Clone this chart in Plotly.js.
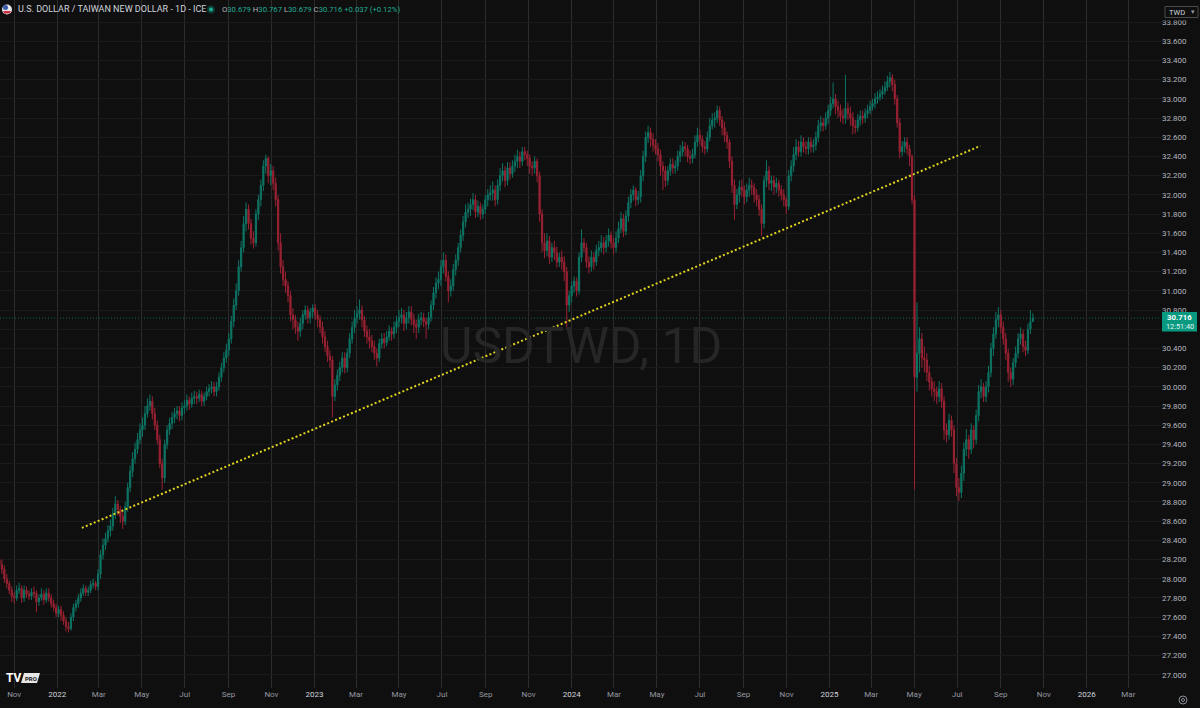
<!DOCTYPE html>
<html><head><meta charset="utf-8">
<script src="https://cdn.plot.ly/plotly-3.0.1.min.js"></script>
<style>html,body{margin:0;padding:0;background:#0f0f0f;overflow:hidden}#chart{width:1200px;height:708px}</style>
</head><body><div id="chart"></div>
<script>
// ---- data ----
const barStart = '2021-10-11';
const barStepDays = 3.5;
const firstOpen = 28.2;
const closes = [
28.15,28.1,28.0,27.95,27.88,27.82,27.8,27.88,27.9,27.8,
27.88,27.84,27.82,27.86,27.85,27.76,27.8,27.84,27.78,27.85,
27.8,27.74,27.7,27.64,27.68,27.62,27.56,27.5,27.48,27.6,
27.7,27.74,27.8,27.85,27.9,27.86,27.88,27.94,27.95,27.92,
28.05,28.25,28.35,28.42,28.5,28.55,28.68,28.78,28.72,28.65,
28.6,28.75,28.95,29.12,29.25,29.35,29.45,29.55,29.6,29.72,
29.8,29.85,29.72,29.6,29.45,29.2,29.05,29.4,29.55,29.62,
29.68,29.72,29.75,29.7,29.78,29.8,29.86,29.82,29.88,29.9,
29.88,29.92,29.85,29.9,29.95,29.98,30.0,29.95,30.0,30.1,
30.2,30.3,30.38,30.5,30.68,30.85,31.0,31.25,31.45,31.7,
31.85,31.7,31.55,31.5,31.8,31.95,32.1,32.3,32.38,32.2,
32.25,32.12,31.95,31.5,31.25,31.12,31.05,30.95,30.75,30.7,
30.62,30.58,30.66,30.75,30.8,30.72,30.78,30.82,30.75,30.7,
30.62,30.52,30.42,30.32,30.28,29.9,30.02,30.12,30.2,30.3,
30.2,30.35,30.5,30.62,30.72,30.76,30.8,30.7,30.58,30.52,
30.48,30.42,30.35,30.3,30.45,30.5,30.46,30.52,30.58,30.55,
30.62,30.68,30.72,30.75,30.66,30.72,30.78,30.7,30.65,30.62,
30.7,30.72,30.68,30.65,30.72,30.85,30.98,31.08,31.12,31.25,
31.32,31.15,31.0,31.05,31.22,31.32,31.45,31.58,31.72,31.82,
31.85,31.9,31.95,31.82,31.88,31.8,31.85,31.95,32.0,32.02,
32.05,31.95,32.1,32.2,32.25,32.15,32.28,32.22,32.3,32.35,
32.4,32.35,32.45,32.42,32.38,32.3,32.28,32.35,32.2,31.8,
31.5,31.42,31.52,31.35,31.45,31.4,31.3,31.35,31.3,31.2,
30.85,30.95,31.05,31.1,31.0,31.35,31.5,31.45,31.3,31.25,
31.35,31.3,31.42,31.45,31.5,31.45,31.52,31.58,31.5,31.45,
31.55,31.65,31.75,31.62,31.78,31.92,32.0,32.05,31.95,31.98,
32.2,32.4,32.6,32.65,32.58,32.52,32.48,32.42,32.3,32.25,
32.15,32.25,32.32,32.28,32.3,32.4,32.45,32.5,32.48,32.4,
32.38,32.42,32.55,32.62,32.58,32.5,32.48,32.6,32.72,32.78,
32.8,32.88,32.78,32.7,32.62,32.55,32.35,32.1,31.9,32.0,
32.08,32.05,31.98,32.05,32.1,32.08,32.0,31.95,31.85,31.7,
32.15,32.25,32.12,32.15,32.08,32.12,32.05,32.0,31.95,31.88,
32.2,32.3,32.42,32.5,32.45,32.55,32.5,32.48,32.55,32.5,
32.52,32.6,32.72,32.75,32.72,32.8,32.88,32.95,33.0,32.92,
32.88,32.82,32.8,32.9,32.85,32.8,32.72,32.7,32.78,32.82,
32.8,32.85,32.88,32.92,32.95,33.0,33.02,33.05,33.08,33.12,
33.18,33.22,33.15,33.0,32.75,32.45,32.5,32.55,32.48,32.4,
31.95,30.1,30.35,30.5,30.3,30.28,30.15,30.05,29.98,29.95,
29.9,29.98,29.85,29.55,29.5,29.65,29.55,29.2,28.95,28.9,
29.1,29.35,29.45,29.35,29.55,29.45,29.7,29.95,30.0,29.9,
30.0,30.15,30.4,30.55,30.7,30.75,30.62,30.5,30.35,30.15,
30.08,30.25,30.35,30.5,30.55,30.42,30.38,30.6,30.68,30.716];
const highs = [
28.25,28.2,28.14,28.05,27.98,27.92,27.86,27.93,27.96,27.93,
27.93,27.92,27.88,27.9,27.92,27.88,27.84,27.9,27.88,27.9,
27.9,27.84,27.78,27.74,27.72,27.72,27.66,27.6,27.55,27.64,
27.74,27.78,27.84,27.9,27.94,27.93,27.92,27.98,28.0,27.98,
28.1,28.3,28.42,28.48,28.56,28.62,28.74,28.86,28.82,28.76,
28.7,28.8,29.0,29.18,29.32,29.42,29.52,29.62,29.68,29.8,
29.88,29.92,29.9,29.78,29.65,29.5,29.25,29.45,29.6,29.68,
29.74,29.78,29.8,29.8,29.84,29.86,29.92,29.9,29.94,29.96,
29.95,29.97,29.96,29.94,30.0,30.03,30.06,30.05,30.05,30.15,
30.25,30.36,30.45,30.56,30.74,30.92,31.08,31.32,31.52,31.78,
31.92,31.9,31.75,31.62,31.85,32.0,32.16,32.36,32.42,32.4,
32.32,32.3,32.18,32.0,31.6,31.32,31.2,31.1,31.0,30.82,
30.75,30.68,30.72,30.8,30.85,30.84,30.82,30.86,30.86,30.8,
30.74,30.68,30.58,30.48,30.38,30.32,30.08,30.18,30.26,30.36,
30.36,30.4,30.56,30.68,30.8,30.84,30.91,30.85,30.74,30.64,
30.6,30.54,30.48,30.4,30.5,30.56,30.56,30.58,30.64,30.62,
30.68,30.74,30.8,30.82,30.8,30.78,30.84,30.84,30.76,30.7,
30.76,30.78,30.77,30.72,30.78,30.9,31.04,31.14,31.2,31.32,
31.4,31.38,31.2,31.12,31.28,31.38,31.5,31.64,31.78,31.9,
31.92,31.96,32.02,32.0,31.94,31.92,31.9,32.0,32.06,32.1,
32.14,32.1,32.16,32.28,32.33,32.3,32.34,32.34,32.36,32.42,
32.47,32.45,32.5,32.5,32.46,32.42,32.35,32.4,32.38,32.24,
31.85,31.6,31.6,31.57,31.5,31.52,31.46,31.4,31.42,31.36,
31.25,31.0,31.1,31.15,31.14,31.4,31.64,31.55,31.5,31.36,
31.42,31.4,31.48,31.52,31.58,31.56,31.58,31.65,31.62,31.55,
31.62,31.72,31.82,31.8,31.84,31.98,32.06,32.1,32.08,32.04,
32.26,32.46,32.66,32.72,32.7,32.64,32.58,32.54,32.47,32.35,
32.3,32.3,32.38,32.38,32.36,32.46,32.52,32.56,32.55,32.52,
32.46,32.48,32.62,32.7,32.68,32.62,32.56,32.66,32.8,32.85,
32.86,32.93,32.92,32.82,32.76,32.66,32.58,32.4,32.16,32.06,
32.15,32.16,32.1,32.12,32.18,32.16,32.12,32.06,32.0,31.9,
32.2,32.36,32.3,32.2,32.2,32.18,32.16,32.1,32.06,31.98,
32.26,32.36,32.5,32.58,32.56,32.62,32.6,32.56,32.6,32.6,
32.58,32.66,32.78,32.82,32.8,32.86,32.94,33.02,33.17,33.05,
32.98,32.94,32.9,33.25,32.96,32.92,32.86,32.78,32.84,32.88,
32.88,32.9,32.94,32.98,33.0,33.06,33.08,33.1,33.14,33.18,
33.24,33.28,33.26,33.2,33.04,32.8,32.56,32.6,32.6,32.52,
32.42,32.0,30.88,30.62,30.56,30.42,30.35,30.22,30.1,30.06,
30.0,30.06,30.04,29.9,29.62,29.72,29.7,29.6,29.26,29.05,
29.18,29.42,29.56,29.5,29.62,29.6,29.76,30.02,30.08,30.04,
30.06,30.22,30.46,30.62,30.78,30.83,30.8,30.68,30.56,30.4,
30.2,30.3,30.42,30.56,30.62,30.6,30.48,30.66,30.8,30.767];
const lows = [
28.1,28.05,27.96,27.9,27.84,27.76,27.74,27.77,27.84,27.75,
27.76,27.8,27.78,27.78,27.8,27.65,27.72,27.77,27.73,27.75,
27.76,27.7,27.66,27.6,27.6,27.56,27.52,27.45,27.44,27.46,
27.56,27.66,27.7,27.76,27.82,27.82,27.82,27.85,27.9,27.88,
27.88,28.0,28.2,28.3,28.38,28.44,28.5,28.62,28.66,28.58,
28.52,28.56,28.7,28.9,29.06,29.2,29.3,29.4,29.48,29.55,
29.68,29.75,29.66,29.55,29.4,29.15,28.93,29.0,29.35,29.5,
29.56,29.62,29.66,29.64,29.65,29.72,29.75,29.76,29.78,29.82,
29.82,29.84,29.8,29.8,29.86,29.9,29.93,29.9,29.9,29.96,
30.05,30.15,30.25,30.32,30.45,30.62,30.8,30.95,31.2,31.4,
31.62,31.64,31.48,31.44,31.46,31.74,31.88,32.04,32.22,32.12,
32.1,32.05,31.88,31.42,31.18,31.05,30.98,30.88,30.68,30.6,
30.55,30.48,30.52,30.6,30.7,30.66,30.66,30.72,30.7,30.62,
30.56,30.45,30.36,30.26,30.2,29.68,29.85,29.96,30.06,30.15,
30.14,30.15,30.3,30.45,30.56,30.66,30.7,30.62,30.52,30.45,
30.4,30.36,30.28,30.21,30.26,30.4,30.4,30.42,30.48,30.48,
30.5,30.56,30.62,30.66,30.58,30.6,30.66,30.64,30.56,30.5,
30.56,30.64,30.62,30.5,30.6,30.68,30.8,30.92,31.02,31.05,
31.18,31.1,30.88,30.94,31.0,31.16,31.26,31.4,31.52,31.66,
31.76,31.78,31.84,31.76,31.77,31.74,31.75,31.8,31.88,31.94,
31.94,31.88,31.9,32.04,32.14,32.08,32.1,32.16,32.18,32.24,
32.28,32.28,32.3,32.36,32.3,32.22,32.2,32.22,32.13,31.72,
31.4,31.34,31.36,31.28,31.3,31.32,31.24,31.25,31.22,31.1,
30.6,30.78,30.88,30.98,30.94,30.96,31.3,31.4,31.24,31.18,
31.2,31.22,31.26,31.36,31.4,31.38,31.4,31.46,31.44,31.38,
31.4,31.5,31.6,31.56,31.58,31.72,31.86,31.94,31.88,31.9,
31.92,32.14,32.34,32.54,32.5,32.45,32.42,32.35,32.2,32.05,
32.08,32.1,32.2,32.22,32.22,32.25,32.34,32.4,32.4,32.34,
32.32,32.33,32.38,32.5,32.52,32.44,32.42,32.44,32.56,32.68,
32.7,32.75,32.72,32.62,32.55,32.48,32.28,32.02,31.74,31.85,
31.92,31.98,31.9,31.92,31.98,32.0,31.92,31.88,31.78,31.57,
31.65,32.08,32.05,32.04,32.0,32.02,31.98,31.94,31.88,31.8,
31.84,32.14,32.24,32.36,32.4,32.4,32.44,32.42,32.42,32.44,
32.44,32.46,32.55,32.66,32.66,32.68,32.74,32.82,32.9,32.84,
32.8,32.76,32.74,32.74,32.78,32.72,32.63,32.64,32.66,32.72,
32.74,32.75,32.8,32.84,32.88,32.9,32.95,32.98,33.0,33.04,
33.08,33.12,33.08,32.94,32.7,32.38,32.4,32.44,32.42,32.3,
31.9,28.93,29.95,30.15,30.2,30.15,30.06,29.96,29.9,29.85,
29.82,29.84,29.78,29.45,29.42,29.45,29.48,29.1,28.86,28.81,
28.84,29.02,29.28,29.25,29.3,29.36,29.4,29.64,29.88,29.84,
29.84,29.94,30.1,30.32,30.5,30.62,30.56,30.44,30.28,30.05,
30.0,30.02,30.2,30.3,30.44,30.36,30.32,30.34,30.55,30.679];

const tickDates = ['2021-11-01','2022-01-01','2022-03-01','2022-05-01','2022-07-01','2022-09-01','2022-11-01',
'2023-01-01','2023-03-01','2023-05-01','2023-07-01','2023-09-01','2023-11-01',
'2024-01-01','2024-03-01','2024-05-01','2024-07-01','2024-09-01','2024-11-01',
'2025-01-01','2025-03-01','2025-05-01','2025-07-01','2025-09-01','2025-11-01','2026-01-01','2026-03-01'];
const tickLabels = ['Nov','2022','Mar','May','Jul','Sep','Nov','2023','Mar','May','Jul','Sep','Nov',
'2024','Mar','May','Jul','Sep','Nov','2025','Mar','May','Jul','Sep','Nov','2026','Mar'];
const yTickValues = [27.0,27.2,27.4,27.6,27.8,28.0,28.2,28.4,28.6,28.8,29.0,29.2,29.4,29.6,29.8,
30.0,30.2,30.4,30.6,30.8,31.0,31.2,31.4,31.6,31.8,32.0,32.2,32.4,32.6,32.8,33.0,33.2,33.4,33.6,33.8];
const trendDates = ['2022-02-05','2025-08-03'];
const trendValues = [28.53, 32.51];
const lastPrice = 30.716;
const lastOpen = 30.679, lastHigh = 30.767, lastLow = 30.679, lastChange = 0.037, lastChangePct = 0.12;
const countdown = '12:51:40';
const titleText = 'U.S. DOLLAR / TAIWAN NEW DOLLAR - 1D - ICE';
const watermark = 'USDTWD, 1D';

// ---- build ----
const t0 = Date.parse(barStart + 'T00:00:00Z');
const dates = closes.map((_, i) => new Date(t0 + i * barStepDays * 864e5).toISOString().slice(0, 16).replace('T', ' '));
const opens = closes.map((c, i) => i === 0 ? firstOpen : closes[i - 1]);

const W = 1200, H = 708, MR = 39, MB = 20;
const PW = W - MR, PH = H - MB;
const px = x => x / PW;
const py = y => (PH - y) / PH;
const FONT = 'Roboto, "Liberation Sans", sans-serif';

const candle = {
  type: 'candlestick', x: dates, open: opens, high: highs, low: lows, close: closes,
  increasing: {line: {color: '#0d7464', width: 1}, fillcolor: '#0d7464'},
  decreasing: {line: {color: '#9a2233', width: 1}, fillcolor: '#9a2233'},
  whiskerwidth: 0, hoverinfo: 'skip', showlegend: false
};
const trend = {
  type: 'scatter', mode: 'lines', x: trendDates, y: trendValues,
  line: {color: '#e3d41f', width: 2, dash: '2px,2.3px'}, hoverinfo: 'skip', showlegend: false
};

const teal = '#22ab94', grayTxt = '#b2b5be';
const sp = (c, t) => `<span style="color:${c}">${t}</span>`;
const ohlcText = sp(grayTxt, 'O') + sp(teal, lastOpen.toFixed(3)) + ' ' + sp(grayTxt, 'H') + sp(teal, lastHigh.toFixed(3)) + ' ' +
  sp(grayTxt, 'L') + sp(teal, lastLow.toFixed(3)) + ' ' + sp(grayTxt, 'C') + sp(teal, lastPrice.toFixed(3)) + ' ' +
  sp(teal, '+' + lastChange.toFixed(3) + ' (+' + lastChangePct.toFixed(2) + '%)');

const tickText = tickLabels.map(t => /^\d{4}$/.test(t) ? `<span style="color:#d1d4dc">${t}</span>` : t);
// the 30.600 label sits under the last-price badge in the reference, so it is left blank
const yTickText = yTickValues.map(v => Math.abs(v - 30.6) < 1e-9 ? '' : v.toFixed(3));

const shapes = [
  {type: 'line', xref: 'paper', yref: 'y', x0: 0, x1: 1, y0: lastPrice, y1: lastPrice,
   line: {color: '#0e6a5c', width: 1, dash: '1px,2px'}, layer: 'below'},
  // price-scale header backdrop (hides the upper half of the top label)
  {type: 'rect', xref: 'paper', yref: 'paper', x0: px(1161), x1: px(1200), y0: py(20.5), y1: py(0),
   fillcolor: '#0f0f0f', line: {width: 0}, layer: 'above'},
  // price label box
  {type: 'rect', xref: 'paper', yref: 'paper', x0: px(1162), x1: px(1197), y0: py(331.5), y1: py(312),
   fillcolor: '#089981', line: {width: 0}, layer: 'above'},
  // TWD button
  {type: 'rect', xref: 'paper', yref: 'paper', x0: px(1165), x1: px(1198), y0: py(17.5), y1: py(6.5),
   fillcolor: '#0f0f0f', line: {color: '#4a4a4a', width: 1}, layer: 'above'},
  // teal status dot
  {type: 'circle', xref: 'paper', yref: 'paper', x0: px(207), x1: px(215), y0: py(13.5), y1: py(5.5),
   fillcolor: '#0b3b34', line: {width: 0}, layer: 'above'},
  {type: 'circle', xref: 'paper', yref: 'paper', x0: px(209), x1: px(213), y0: py(11.5), y1: py(7.5),
   fillcolor: teal, line: {width: 0}, layer: 'above'},
  // flag icon
  {type: 'circle', xref: 'paper', yref: 'paper', x0: px(2), x1: px(12), y0: py(14.5), y1: py(4.5),
   fillcolor: '#e8e8ec', line: {width: 0}, layer: 'above'},
  {type: 'path', xref: 'paper', yref: 'paper', layer: 'above', fillcolor: '#c8323f', line: {width: 0},
   path: `M ${px(3)},${py(11)} L ${px(11)},${py(11)} L ${px(9.5)},${py(13.5)} L ${px(4.5)},${py(13.5)} Z`},
  {type: 'circle', xref: 'paper', yref: 'paper', x0: px(3), x1: px(8), y0: py(10), y1: py(5),
   fillcolor: '#3b5ba8', line: {width: 0}, layer: 'above'},
  // TV PRO badge
  {type: 'path', xref: 'paper', yref: 'paper', layer: 'above', fillcolor: '#e6e6e6', line: {width: 0},
   path: `M ${px(24)},${py(673)} L ${px(40)},${py(673)} L ${px(37)},${py(683)} L ${px(21)},${py(683)} Z`},
  // gear icon
  {type: 'circle', xref: 'paper', yref: 'paper', x0: px(1179), x1: px(1187), y0: py(704), y1: py(696),
   line: {color: '#8a8d96', width: 1}, layer: 'above'},
  {type: 'circle', xref: 'paper', yref: 'paper', x0: px(1181.5), x1: px(1184.5), y0: py(701.5), y1: py(698.5),
   line: {color: '#8a8d96', width: 1}, layer: 'above'}
];

const ann = (text, x, y, size, color, xanchor, extra) => Object.assign({
  text, xref: 'paper', yref: 'paper', x: px(x), y: py(y), xanchor: xanchor || 'left', yanchor: 'middle',
  showarrow: false, font: {family: FONT, size, color}
}, extra || {});

const annotations = [
  ann(watermark, 581, 346, 50, '#262626', 'center'),
  ann(titleText, 16, 9.5, 9, '#d1d4dc', 'left'),
  ann(ohlcText, 220, 9.5, 7.7, grayTxt, 'left'),
  ann('TWD', 1167, 12, 7.5, '#d1d4dc', 'left'),
  ann('▾', 1193, 12, 6.5, '#9598a1', 'center'),
  ann('<b>' + lastPrice.toFixed(3) + '</b>', 1179.5, 317.5, 7.8, '#ffffff', 'center'),
  ann(countdown, 1179.5, 326.5, 7.3, '#e6f5f2', 'center'),
  ann('<b>TV</b>', 4, 678, 12, '#ffffff', 'left'),
  ann('<b>PRO</b>', 30.5, 678, 6, '#151515', 'center')
];

const layout = {
  width: W, height: H,
  margin: {l: 0, r: MR, t: 0, b: MB, pad: 0},
  paper_bgcolor: '#0f0f0f', plot_bgcolor: '#0f0f0f',
  hovermode: false, dragmode: false, showlegend: false,
  font: {family: FONT, color: grayTxt, size: 8},
  xaxis: {
    type: 'date', range: ['2021-10-11 20:00', '2026-04-16 07:00'],
    tickmode: 'array', tickvals: tickDates, ticktext: tickText,
    showgrid: true, gridcolor: '#2c2c2c', gridwidth: 1, zeroline: false, showline: false,
    ticks: '', tickfont: {family: FONT, size: 8, color: '#9598a1'},
    rangeslider: {visible: false}, fixedrange: true
  },
  yaxis: {
    side: 'right', range: [26.862, 34.03],
    tickmode: 'array', tickvals: yTickValues, ticktext: yTickText,
    showgrid: true, gridcolor: '#1a1a1a', gridwidth: 1, zeroline: false, showline: false,
    ticks: '', tickfont: {family: FONT, size: 8, color: grayTxt}, fixedrange: true
  },
  shapes, annotations
};

Plotly.newPlot('chart', [candle, trend], layout, {staticPlot: true, displayModeBar: false});
</script>
</body></html>
